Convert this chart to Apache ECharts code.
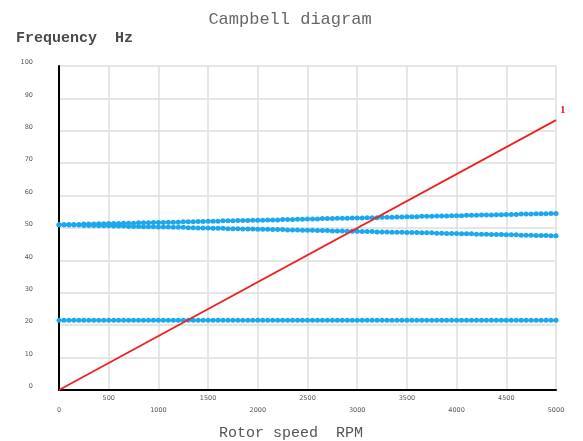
<!DOCTYPE html>
<html>
<head>
<meta charset="utf-8">
<script src="https://cdn.jsdelivr.net/npm/echarts@6/dist/echarts.min.js"></script>
<style>html,body{margin:0;padding:0;background:#fff}#c{width:583px;height:441px}</style>
</head>
<body>
<div id="c"></div>
<script>
const rpm = [0,50,100,150,200,250,300,350,400,450,500,550,600,650,700,750,800,850,900,950,
1000,1050,1100,1150,1200,1250,1300,1350,1400,1450,1500,1550,1600,1650,1700,1750,1800,1850,1900,1950,
2000,2050,2100,2150,2200,2250,2300,2350,2400,2450,2500,2550,2600,2650,2700,2750,2800,2850,2900,2950,
3000,3050,3100,3150,3200,3250,3300,3350,3400,3450,3500,3550,3600,3650,3700,3750,3800,3850,3900,3950,
4000,4050,4100,4150,4200,4250,4300,4350,4400,4450,4500,4550,4600,4650,4700,4750,4800,4850,4900,4950,5000];
const forwardMode = [51.0,51.0,51.1,51.1,51.1,51.2,51.2,51.2,51.3,51.3,51.4,51.4,51.4,51.5,51.5,51.5,51.6,51.6,51.6,51.7,
51.7,51.7,51.8,51.8,51.8,51.9,51.9,51.9,52.0,52.0,52.1,52.1,52.1,52.2,52.2,52.2,52.3,52.3,52.3,52.4,
52.4,52.4,52.5,52.5,52.5,52.6,52.6,52.6,52.7,52.7,52.8,52.8,52.8,52.9,52.9,52.9,53.0,53.0,53.0,53.1,
53.1,53.1,53.2,53.2,53.2,53.3,53.3,53.3,53.4,53.4,53.5,53.5,53.5,53.6,53.6,53.6,53.7,53.7,53.7,53.8,
53.8,53.8,53.9,53.9,53.9,54.0,54.0,54.0,54.1,54.1,54.2,54.2,54.2,54.3,54.3,54.3,54.4,54.4,54.4,54.5,54.5];
const backwardMode = [51.0,51.0,50.9,50.9,50.9,50.8,50.8,50.8,50.7,50.7,50.7,50.6,50.6,50.6,50.5,50.5,50.5,50.4,50.4,50.4,
50.3,50.3,50.3,50.2,50.2,50.2,50.1,50.1,50.0,50.0,50.0,49.9,49.9,49.9,49.8,49.8,49.8,49.7,49.7,49.7,
49.6,49.6,49.6,49.5,49.5,49.5,49.4,49.4,49.4,49.3,49.3,49.3,49.2,49.2,49.2,49.1,49.1,49.1,49.0,49.0,
49.0,48.9,48.9,48.9,48.8,48.8,48.8,48.7,48.7,48.7,48.6,48.6,48.6,48.5,48.5,48.5,48.4,48.4,48.3,48.3,
48.3,48.2,48.2,48.2,48.1,48.1,48.1,48.0,48.0,48.0,47.9,47.9,47.9,47.8,47.8,47.8,47.7,47.7,47.7,47.6,47.6];
const lowMode = [21.5,21.5,21.5,21.5,21.5,21.5,21.5,21.5,21.5,21.5,21.5,21.5,21.5,21.5,21.5,21.5,21.5,21.5,21.5,21.5,
21.5,21.5,21.5,21.5,21.5,21.5,21.5,21.5,21.5,21.5,21.5,21.5,21.5,21.5,21.5,21.5,21.5,21.5,21.5,21.5,
21.5,21.5,21.5,21.5,21.5,21.5,21.5,21.5,21.5,21.5,21.5,21.5,21.5,21.5,21.5,21.5,21.5,21.5,21.5,21.5,
21.5,21.5,21.5,21.5,21.5,21.5,21.5,21.5,21.5,21.5,21.5,21.5,21.5,21.5,21.5,21.5,21.5,21.5,21.5,21.5,
21.5,21.5,21.5,21.5,21.5,21.5,21.5,21.5,21.5,21.5,21.5,21.5,21.5,21.5,21.5,21.5,21.5,21.5,21.5,21.5,21.5];
const orderRpm = [0, 5000];
const orderHz = [0, 83.3];
const orderName = '1';

const pair = (xs, ys) => xs.map((x, i) => [x, ys[i]]);
const blue = '#1ca8ee';
const blueSeries = (d) => ({
  type: 'line', data: pair(rpm, d), symbol: 'circle', symbolSize: 5,
  showAllSymbol: true, itemStyle: {color: blue}, lineStyle: {color: blue, width: 2},
  animation: false, z: 3
});

const chart = echarts.init(document.getElementById('c'));
chart.setOption({
  backgroundColor: '#fff',
  animation: false,
  title: [
    {text: 'Campbell diagram', left: 285, top: 6, textAlign: 'center',
     textStyle: {fontFamily: 'Liberation Mono', fontSize: 17, fontWeight: 'normal', color: '#666'}},
    {text: 'Frequency  Hz', left: 11, top: 26,
     textStyle: {fontFamily: 'Liberation Mono', fontSize: 15, fontWeight: 'bold', color: '#4a4a4a'}},
    {text: 'Rotor speed  RPM', left: 286, top: 421, textAlign: 'center',
     textStyle: {fontFamily: 'Liberation Mono', fontSize: 15, fontWeight: 'normal', color: '#555'}}
  ],
  grid: {left: 59, right: 27, top: 66, bottom: 51},
  xAxis: {
    type: 'value', min: 0, max: 5000, interval: 500,
    axisLine: {lineStyle: {color: '#000', width: 2}},
    axisTick: {show: false},
    splitLine: {show: true, lineStyle: {color: '#dedede', width: 1.5}},
    axisLabel: {
      margin: 2, fontSize: 6.5, color: '#555', fontFamily: 'DejaVu Sans', lineHeight: 12,
      showMinLabel: true, showMaxLabel: true,
      formatter: (v) => ((v / 500) % 2 === 1 ? String(v) : '\n' + v)
    }
  },
  yAxis: {
    type: 'value', min: 0, max: 100, interval: 10,
    axisLine: {show: true, lineStyle: {color: '#000', width: 2}},
    axisTick: {show: false},
    splitLine: {show: true, lineStyle: {color: '#dedede', width: 1.5}},
    axisLabel: {margin: 26, fontSize: 6.5, color: '#555', fontFamily: 'DejaVu Sans', verticalAlign: 'bottom'}
  },
  series: [
    blueSeries(lowMode),
    blueSeries(backwardMode),
    blueSeries(forwardMode),
    {
      type: 'line', data: pair(orderRpm, orderHz), symbol: 'none',
      lineStyle: {color: '#ee2222', width: 1.8}, z: 4,
      endLabel: {show: true, formatter: orderName, color: '#dd2222', fontSize: 11,
        fontFamily: 'Liberation Serif', fontWeight: 'bold', offset: [1, -10], distance: 3}
    }
  ]
});
</script>
</body>
</html>
